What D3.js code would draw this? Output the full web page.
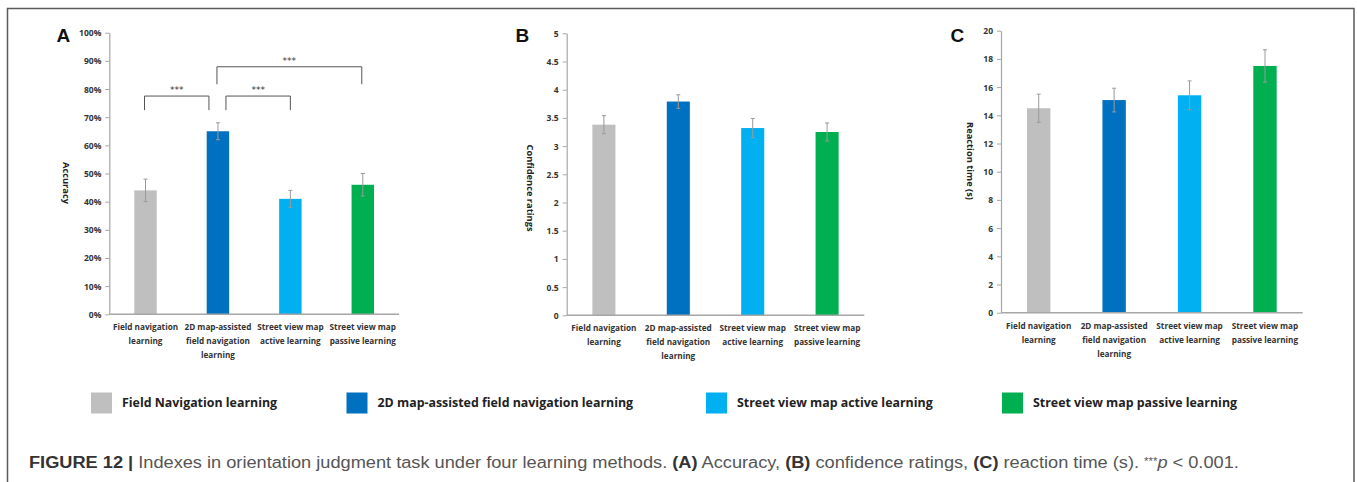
<!DOCTYPE html>
<html>
<head>
<meta charset="utf-8">
<script src="https://cdn.jsdelivr.net/npm/d3@7"></script>
<style>
  body { margin: 0; background: #fff; }
  svg { display: block; }
  .tick text { font-family: "Open Sans", sans-serif; font-weight: 700; fill: #333; }
</style>
</head>
<body>
<svg width="1357" height="482"></svg>
<script>
const categories = ['Field navigation learning', '2D map-assisted field navigation learning',
  'Street view map active learning', 'Street view map passive learning'];
const categoryLines = [['Field navigation', 'learning'], ['2D map-assisted', 'field navigation', 'learning'],
  ['Street view map', 'active learning'], ['Street view map', 'passive learning']];
const legendLabels = ['Field Navigation learning', '2D map-assisted field navigation learning',
  'Street view map active learning', 'Street view map passive learning'];
const colors = ['#bfbfbf', '#0070c0', '#00b0f0', '#00b050'];

const accuracy = [0.44, 0.65, 0.41, 0.46];
const accuracyErr = [0.04, 0.03, 0.03, 0.04];
const confidence = [3.38, 3.79, 3.32, 3.25];
const confidenceErr = [0.16, 0.12, 0.17, 0.16];
const reaction = [14.5, 15.08, 15.42, 17.5];
const reactionErr = [1.0, 0.84, 1.02, 1.15];

// significance brackets in panel A: [from bar, to bar, bracket top, leg end]
const brackets = [[0, 1, 0.775, 0.725], [1, 2, 0.775, 0.725], [1, 3, 0.879, 0.817]];
const bracketNudge = [[-1, -9], [8, 0], [-1, -1]];

const svg = d3.select('svg');

// frame
svg.append('rect')
  .attr('x', 7.5).attr('y', 8.5)
  .attr('width', 1346.5).attr('height', 520)
  .attr('fill', 'none').attr('stroke', '#5a5a5a').attr('stroke-width', 1.5);

const panels = [
  { letter: 'A', letterX: 56.5, x0: 109.3, x1: 399, top: 32.7, bottom: 314.3,
    values: accuracy, errs: accuracyErr, max: 1, step: 0.1, fmt: d3.format('.0%'),
    label: 'Accuracy', labelX: 66, labelY: 183 },
  { letter: 'B', letterX: 515.5, x0: 566.7, x1: 864.3, top: 33.3, bottom: 315.3,
    values: confidence, errs: confidenceErr, max: 5, step: 0.5, fmt: d => String(d),
    label: 'Confidence ratings', labelX: 530, labelY: 188 },
  { letter: 'C', letterX: 950.5, x0: 1001, x1: 1302.7, top: 30.7, bottom: 312.7,
    values: reaction, errs: reactionErr, max: 20, step: 2, fmt: d => String(d),
    label: 'Reaction time (s)', labelX: 970, labelY: 161 }
];

const drawPanel = (p, idx) => {
  const g = svg.append('g').attr('class', 'panel');

  const x = d3.scaleBand()
    .domain(categories)
    .range([p.x0, p.x1])
    .paddingInner(0.69)
    .paddingOuter(0.345);
  const y = d3.scaleLinear()
    .domain([0, p.max])
    .range([p.bottom, p.top]);

  const yAxis = d3.axisLeft(y)
    .tickValues(d3.range(0, p.max + p.step / 2, p.step))
    .tickFormat(p.fmt)
    .tickSize(4)
    .tickSizeOuter(0)
    .tickPadding(4);
  const yG = g.append('g')
    .attr('transform', `translate(${p.x0},0)`)
    .call(yAxis);
  yG.select('.domain').attr('stroke', '#a6a6a6').attr('stroke-width', 1.2);
  yG.selectAll('.tick line').attr('stroke', '#a6a6a6');
  yG.selectAll('.tick text').attr('font-size', 8.5).attr('dy', '0.35em');

  // bars
  g.selectAll('rect.bar').data(p.values).enter().append('rect')
    .attr('class', 'bar')
    .attr('x', (d, i) => x(categories[i]))
    .attr('y', d => y(d))
    .attr('width', x.bandwidth())
    .attr('height', d => y(0) - y(d))
    .attr('fill', (d, i) => colors[i]);

  // error bars
  const eb = g.selectAll('g.err').data(p.values).enter().append('g')
    .attr('class', 'err')
    .attr('stroke', '#9a9a9a').attr('stroke-width', 1);
  const cx = i => x(categories[i]) + x.bandwidth() / 2;
  eb.append('line')
    .attr('x1', (d, i) => cx(i)).attr('x2', (d, i) => cx(i))
    .attr('y1', (d, i) => y(d + p.errs[i])).attr('y2', (d, i) => y(d - p.errs[i]));
  eb.append('line')
    .attr('x1', (d, i) => cx(i) - 2).attr('x2', (d, i) => cx(i) + 2)
    .attr('y1', (d, i) => y(d + p.errs[i])).attr('y2', (d, i) => y(d + p.errs[i]));
  eb.append('line')
    .attr('x1', (d, i) => cx(i) - 2).attr('x2', (d, i) => cx(i) + 2)
    .attr('y1', (d, i) => y(d - p.errs[i])).attr('y2', (d, i) => y(d - p.errs[i]));

  // x axis
  const xAxis = d3.axisBottom(x).tickSize(0).tickSizeOuter(0).tickPadding(0);
  const xG = g.append('g')
    .attr('transform', `translate(0,${p.bottom})`)
    .call(xAxis);
  xG.select('.domain').attr('stroke', '#a6a6a6').attr('stroke-width', 1.5)
    .attr('d', `M${p.x0},0H${p.x1}`);
  xG.selectAll('.tick text')
    .attr('font-size', 8.2)
    .attr('y', 0).attr('dy', null)
    .each(function (d, i) {
      const t = d3.select(this).text(null);
      categoryLines[i].forEach((line, k) => {
        t.append('tspan').attr('x', 0).attr('y', 16 + k * 14).text(line);
      });
    });

  // y label
  g.append('text')
    .attr('transform', `translate(${p.labelX},${p.labelY}) rotate(90)`)
    .attr('text-anchor', 'middle')
    .attr('dy', '0.35em')
    .attr('font-family', '"Open Sans", sans-serif')
    .attr('font-weight', 700)
    .attr('font-size', 9.3)
    .attr('fill', '#222')
    .text(p.label);

  // panel letter
  g.append('text')
    .attr('x', p.letterX).attr('y', 41.7)
    .attr('font-family', '"Liberation Sans", Arial, sans-serif')
    .attr('font-weight', 700)
    .attr('font-size', 19)
    .attr('fill', '#111')
    .text(p.letter);

  if (idx === 0) {
    const bg = g.append('g').attr('class', 'brackets');
    brackets.forEach((b, k) => {
      const xa = cx(b[0]) + bracketNudge[k][0];
      const xb = cx(b[1]) + bracketNudge[k][1];
      bg.append('path')
        .attr('d', `M${xa},${y(b[3])}V${y(b[2])}H${xb}V${y(b[3])}`)
        .attr('fill', 'none').attr('stroke', '#555').attr('stroke-width', 1);
      bg.append('text')
        .attr('x', (xa + xb) / 2).attr('y', y(b[2]) - 3)
        .attr('text-anchor', 'middle')
        .attr('font-family', '"DejaVu Sans", sans-serif')
        .attr('font-size', 9)
        .attr('fill', '#333')
        .text('***');
    });
  }
};

panels.forEach(drawPanel);

// legend
const legendX = [91, 346.5, 706, 1002];
const legend = svg.append('g').attr('class', 'legend');
const items = legend.selectAll('g').data(legendLabels).enter().append('g')
  .attr('transform', (d, i) => `translate(${legendX[i]},392.5)`);
items.append('rect')
  .attr('width', 21).attr('height', 21)
  .attr('fill', (d, i) => colors[i]);
items.append('text')
  .attr('x', 31).attr('y', 14.5)
  .attr('font-family', '"Open Sans", sans-serif')
  .attr('font-weight', 700)
  .attr('font-size', 12.4)
  .attr('fill', '#222')
  .text(d => d);

// caption
const caption = svg.append('text')
  .attr('x', 29).attr('y', 468.5)
  .attr('font-family', '"Liberation Sans", Arial, sans-serif')
  .attr('font-size', 16)
  .attr('fill', '#555');
const parts = [
  ['FIGURE 12 | ', 'b'], ['Indexes in orientation judgment task under four learning methods. ', ''],
  ['(A)', 'b'], [' Accuracy, ', ''], ['(B)', 'b'], [' confidence ratings, ', ''],
  ['(C)', 'b'], [' reaction time (s). ', ''], ['***', 's'], ['p', 'i'], [' < 0.001.', '']
];
parts.forEach(([txt, st]) => {
  const ts = caption.append('tspan').text(txt);
  if (st === 'b') ts.attr('font-weight', 700).attr('fill', '#333');
  if (st === 'i') ts.attr('font-style', 'italic');
  if (st === 's') ts.attr('font-size', 10).attr('baseline-shift', '4');
});
const capW = caption.node().getComputedTextLength();
caption.attr('transform', `translate(29,0) scale(${1211 / capW},1) translate(-29,0)`);
</script>
</body>
</html>
